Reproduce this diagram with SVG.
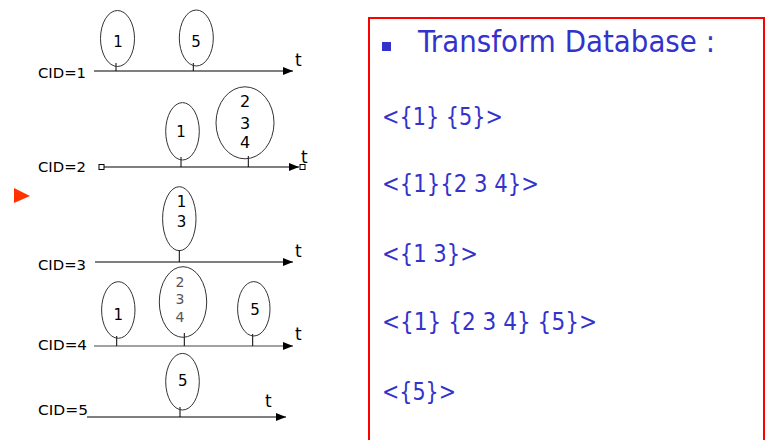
<svg xmlns="http://www.w3.org/2000/svg" width="769" height="440" viewBox="0 0 769 440">
<style>
.cid{font-family:"DejaVu Sans",Verdana,sans-serif;font-size:14px;fill:#000}
.t{font-family:"DejaVu Sans",Verdana,sans-serif;font-size:17px;fill:#000}
.ev{fill:none;stroke:#333;stroke-width:1}
.tick{stroke:#000;stroke-width:1}
.lbl{font-family:"DejaVu Sans",Verdana,sans-serif;font-size:15px;text-anchor:middle;fill:#000}
.lbl2{font-family:"DejaVu Sans",Verdana,sans-serif;font-size:14px;text-anchor:middle;fill:#555}
.axis{stroke:#000;stroke-width:1.2;fill:none}
.sq{fill:#fff;stroke:#000;stroke-width:1}
.list{font-family:"DejaVu Sans",Verdana,sans-serif;font-size:24px;fill:#3333CC}
</style>
<defs>
<marker id="ah" markerWidth="10" markerHeight="8" refX="10" refY="4" orient="auto" markerUnits="userSpaceOnUse">
<path d="M0,0 L10,4 L0,8 z" fill="#000"/>
</marker>
</defs>
<rect width="769" height="440" fill="#fff"/>
<g id="connectors">
<line class="axis" x1="94" y1="71" x2="293" y2="71" marker-end="url(#ah)"/>
<line class="axis" x1="104" y1="167" x2="299" y2="167" marker-end="url(#ah)"/>
<line class="axis" x1="95" y1="262" x2="293" y2="262" marker-end="url(#ah)"/>
<line class="axis" x1="94" y1="346" x2="293" y2="346" marker-end="url(#ah)" style="stroke:#444"/>
<line class="axis" x1="87" y1="417" x2="286" y2="417" marker-end="url(#ah)"/>
<line class="tick" x1="116" y1="63" x2="116" y2="71"/>
<line class="tick" x1="193.3" y1="63" x2="193.3" y2="71"/>
<line class="tick" x1="181" y1="157" x2="181" y2="167"/>
<line class="tick" x1="248.3" y1="156" x2="248.3" y2="167"/>
<line class="tick" x1="179.3" y1="250" x2="179.3" y2="262"/>
<line class="tick" x1="116.7" y1="336" x2="116.7" y2="346"/>
<line class="tick" x1="184.3" y1="333" x2="184.3" y2="346"/>
<line class="tick" x1="252.7" y1="334" x2="252.7" y2="346"/>
<line class="tick" x1="180" y1="407" x2="180" y2="417"/>
</g>
<g id="cid1">
<text class="cid" x="38" y="78" textLength="48" lengthAdjust="spacingAndGlyphs">CID=1</text>
<text class="t" x="295" y="66">t</text>
<ellipse class="ev" cx="117.5" cy="38.5" rx="17" ry="28"/>
<text class="lbl" x="118" y="47">1</text>
<ellipse class="ev" cx="196.3" cy="38" rx="17" ry="28"/>
<text class="lbl" x="196" y="47">5</text>
</g>
<g id="cid2">
<text class="cid" x="38" y="172" textLength="48" lengthAdjust="spacingAndGlyphs">CID=2</text>
<rect class="sq" x="99" y="164.5" width="5" height="5"/>
<rect class="sq" x="300" y="164.5" width="5" height="5"/>
<text class="t" x="301" y="163">t</text>
<ellipse class="ev" cx="182.5" cy="131.3" rx="16.8" ry="28.7"/>
<text class="lbl" x="181" y="137">1</text>
<ellipse class="ev" cx="245" cy="122.8" rx="29" ry="36"/>
<text class="lbl" x="245" y="107" style="font-size:16px">2</text>
<text class="lbl" x="245" y="128.5" style="font-size:16px">3</text>
<text class="lbl" x="245" y="148" style="font-size:16px">4</text>
</g>
<polygon id="pointer" points="14,188 30,196 14,203" fill="#FF3300"/>
<g id="cid3">
<text class="cid" x="38" y="270" textLength="48" lengthAdjust="spacingAndGlyphs">CID=3</text>
<text class="t" x="295" y="257">t</text>
<ellipse class="ev" cx="179.3" cy="218.7" rx="16.7" ry="32"/>
<text class="lbl" x="181.5" y="207">1</text>
<text class="lbl" x="181.5" y="227">3</text>
</g>
<g id="cid4">
<text class="cid" x="38" y="350" textLength="49" lengthAdjust="spacingAndGlyphs">CID=4</text>
<text class="t" x="295" y="340">t</text>
<ellipse class="ev" cx="118.3" cy="310" rx="16.7" ry="28.3"/>
<text class="lbl" x="118.3" y="320">1</text>
<ellipse class="ev" cx="183" cy="302" rx="23.7" ry="35.3"/>
<text class="lbl2" x="180" y="286.5">2</text>
<text class="lbl2" x="180" y="304">3</text>
<text class="lbl2" x="180" y="321.5">4</text>
<ellipse class="ev" cx="253.8" cy="308.8" rx="16.2" ry="27.2"/>
<text class="lbl" x="255" y="314.5">5</text>
</g>
<g id="cid5">
<text class="cid" x="38" y="415" textLength="50" lengthAdjust="spacingAndGlyphs">CID=5</text>
<text class="t" x="265" y="406.7">t</text>
<ellipse class="ev" cx="182.5" cy="381.7" rx="16.8" ry="28.3"/>
<text class="lbl" x="182.7" y="386">5</text>
</g>
<g id="database">
<rect x="369" y="18" width="395" height="430" fill="none" stroke="#FF0000" stroke-width="2"/>
<rect x="382" y="42" width="9" height="9" fill="#3333CC"/>
<text class="list" x="418" y="52" style="font-size:30px" textLength="297" lengthAdjust="spacingAndGlyphs">Transform Database :</text>
<text class="list" x="382" y="125" textLength="121" lengthAdjust="spacingAndGlyphs">&lt;{1} {5}&gt;</text>
<text class="list" x="382" y="192" textLength="157" lengthAdjust="spacingAndGlyphs">&lt;{1}{2 3 4}&gt;</text>
<text class="list" x="382" y="262" textLength="96" lengthAdjust="spacingAndGlyphs">&lt;{1 3}&gt;</text>
<text class="list" x="382" y="330" textLength="215" lengthAdjust="spacingAndGlyphs">&lt;{1} {2 3 4} {5}&gt;</text>
<text class="list" x="382" y="400" textLength="74" lengthAdjust="spacingAndGlyphs">&lt;{5}&gt;</text>
</g>
</svg>
